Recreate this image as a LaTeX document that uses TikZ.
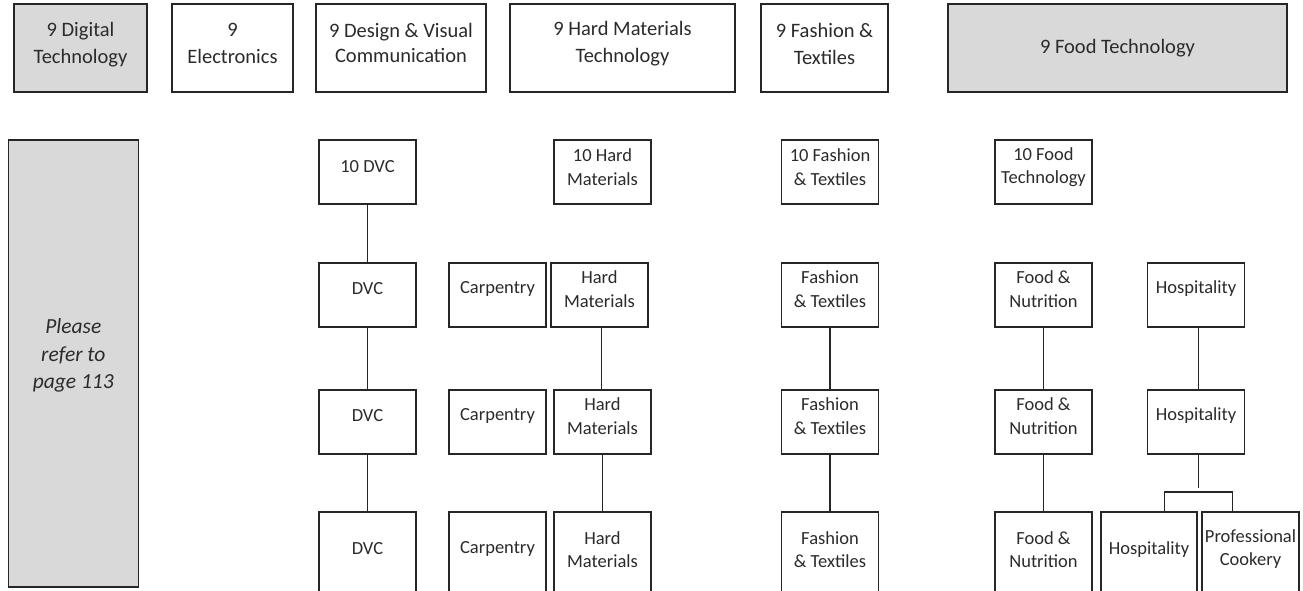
\documentclass[tikz,border=0pt]{standalone}
\usepackage{fontspec}
\setmainfont{Carlito}
\definecolor{txtc}{HTML}{2B2B2B}
\definecolor{linec}{HTML}{262626}
\definecolor{grayfill}{HTML}{D9D9D9}
\tikzset{
  box/.style={draw=linec, line width=1.3pt, rectangle, inner sep=0pt},
  topbox/.style={box, line width=2.2pt, minimum height=88pt},
  sbox/.style={box, minimum height=64pt},
  lbox/.style={box, minimum height=87pt},
  grey/.style={fill=grayfill},
  conn/.style={draw=linec, line width=1.3pt},
  lbl/.style={text=txtc, align=center, inner sep=0pt},
  tt/.style={lbl, font=\fontsize{20.5}{27}\selectfont},
  rt/.style={lbl, font=\fontsize{18.5}{23.5}\selectfont},
}
\begin{document}
\begin{tikzpicture}[x=1pt, y=-1pt]
\clip (0,0) rectangle (1303,591);
\fill[white] (0,0) rectangle (1303,591);
% top row
\node[topbox, grey, minimum width=133pt] (dt) at (80.5,48) {};
\node[tt] (dtt) at (80.5,45) {9 Digital\\Technology};
\node[topbox, minimum width=121pt] (el) at (232.5,48) {};
\node[tt] (elt) at (232.5,43) {9\\Electronics};
\node[topbox, minimum width=170pt] (dv) at (401,48) {};
\node[tt, font=\fontsize{20.5}{25}\selectfont] (dvt) at (401,42.5) {9 Design \& Visual\\Communication};
\node[topbox, minimum width=225pt] (hm) at (622.5,48) {};
\node[tt] (hmt) at (622.5,44) {9 Hard Materials\\Technology};
\node[topbox, minimum width=127pt] (ft) at (824.5,48) {};
\node[tt] (ftt) at (824.5,43.5) {9 Fashion \&\\Textiles};
\node[topbox, grey, minimum width=339pt] (fd) at (1117.5,48) {};
\node[tt] (fdt) at (1117.5,48) {9 Food Technology};
% left box
\node[box, grey, minimum width=130pt, minimum height=447pt] (pr) at (73.3,363.6) {};
\node[lbl, font=\fontsize{21.5}{27.5}\selectfont\itshape] (prt) at (73.3,355.5) {Please\\refer to\\page 113};
% row 1
\node[sbox, minimum width=97pt] (d1) at (367.5,172) {};
\node[rt] (d1t) at (367.5,166.5) {10 DVC};
\node[sbox, minimum width=97pt] (h1) at (602.5,172) {};
\node[rt] (h1t) at (602.5,167) {10 Hard\\Materials};
\node[sbox, minimum width=96.5pt] (f1) at (830,172) {};
\node[rt] (f1t) at (830,167) {10 Fashion\\\& Textiles};
\node[sbox, minimum width=97pt] (n1) at (1043.5,172) {};
\node[rt] (n1t) at (1043.5,167) {10 Food\\Technology};
% row 2
\node[sbox, minimum width=97pt] (d2) at (367.5,295) {};
\node[rt] (d2t) at (367.5,289) {DVC};
\node[sbox, minimum width=97pt] (c2) at (497.5,295) {};
\node[rt] (c2t) at (497.5,289) {Carpentry};
\node[sbox, minimum width=97pt] (h2) at (599.5,295) {};
\node[rt] (h2t) at (599.5,289) {Hard\\Materials};
\node[sbox, minimum width=96.5pt] (f2) at (830,295) {};
\node[rt] (f2t) at (830,289) {Fashion\\\& Textiles};
\node[sbox, minimum width=97pt] (n2) at (1043.5,295) {};
\node[rt] (n2t) at (1043.5,289) {Food \&\\Nutrition};
\node[sbox, minimum width=96.5pt] (p2) at (1196,295) {};
\node[rt] (p2t) at (1196,289) {Hospitality};
% row 3
\node[sbox, minimum width=97pt] (d3) at (367.5,422) {};
\node[rt] (d3t) at (367.5,416) {DVC};
\node[sbox, minimum width=97pt] (c3) at (497.5,422) {};
\node[rt] (c3t) at (497.5,416) {Carpentry};
\node[sbox, minimum width=97pt] (h3) at (602.5,422) {};
\node[rt] (h3t) at (602.5,416) {Hard\\Materials};
\node[sbox, minimum width=96.5pt] (f3) at (830,422) {};
\node[rt] (f3t) at (830,416) {Fashion\\\& Textiles};
\node[sbox, minimum width=97pt] (n3) at (1043.5,422) {};
\node[rt] (n3t) at (1043.5,416) {Food \&\\Nutrition};
\node[sbox, minimum width=96.5pt] (p3) at (1196,422) {};
\node[rt] (p3t) at (1196,416) {Hospitality};
% row 4
\node[lbox, minimum width=97pt] (d4) at (367.5,555.5) {};
\node[rt] (d4t) at (367.5,549) {DVC};
\node[lbox, minimum width=97pt] (c4) at (497.5,555.5) {};
\node[rt] (c4t) at (497.5,549) {Carpentry};
\node[lbox, minimum width=97pt] (h4) at (602.5,555.5) {};
\node[rt] (h4t) at (602.5,549.5) {Hard\\Materials};
\node[lbox, minimum width=96.5pt] (f4) at (830,555.5) {};
\node[rt] (f4t) at (830,549.5) {Fashion\\\& Textiles};
\node[lbox, minimum width=97pt] (n4) at (1043.5,555.5) {};
\node[rt] (n4t) at (1043.5,549.5) {Food \&\\Nutrition};
\node[lbox, minimum width=96pt] (q4) at (1149,555.5) {};
\node[rt] (q4t) at (1149,549.5) {Hospitality};
\node[lbox, minimum width=97pt] (pc) at (1250.5,555.5) {};
\node[rt] (pct) at (1250.5,549) {Professional\\Cookery};
% connectors
\draw[conn] (d1) -- (d2);
\draw[conn] (d2) -- (d3);
\draw[conn] (d3) -- (d4);
\draw[conn] ([xshift=2pt]h2.south) -- ([xshift=2pt]h2.south |- h3.north);
\draw[conn] (h3) -- (h4);
\draw[conn] (f2) -- (f3);
\draw[conn] (f3) -- (f4);
\draw[conn] (n2) -- (n3);
\draw[conn] (n3) -- (n4);
\draw[conn] ([xshift=2.5pt]p2.south) -- ([xshift=2.5pt]p3.north);
\coordinate (stem) at (1198.5,488.3);
\coordinate (brL) at (1164.7,492);
\coordinate (brR) at (1232.7,492);
\draw[conn] ([xshift=2.5pt]p3.south) -- (stem);
\draw[conn] (brL |- q4.north) -- (brL) -- (brR) -- (brR |- pc.north);
\end{tikzpicture}
\end{document}
